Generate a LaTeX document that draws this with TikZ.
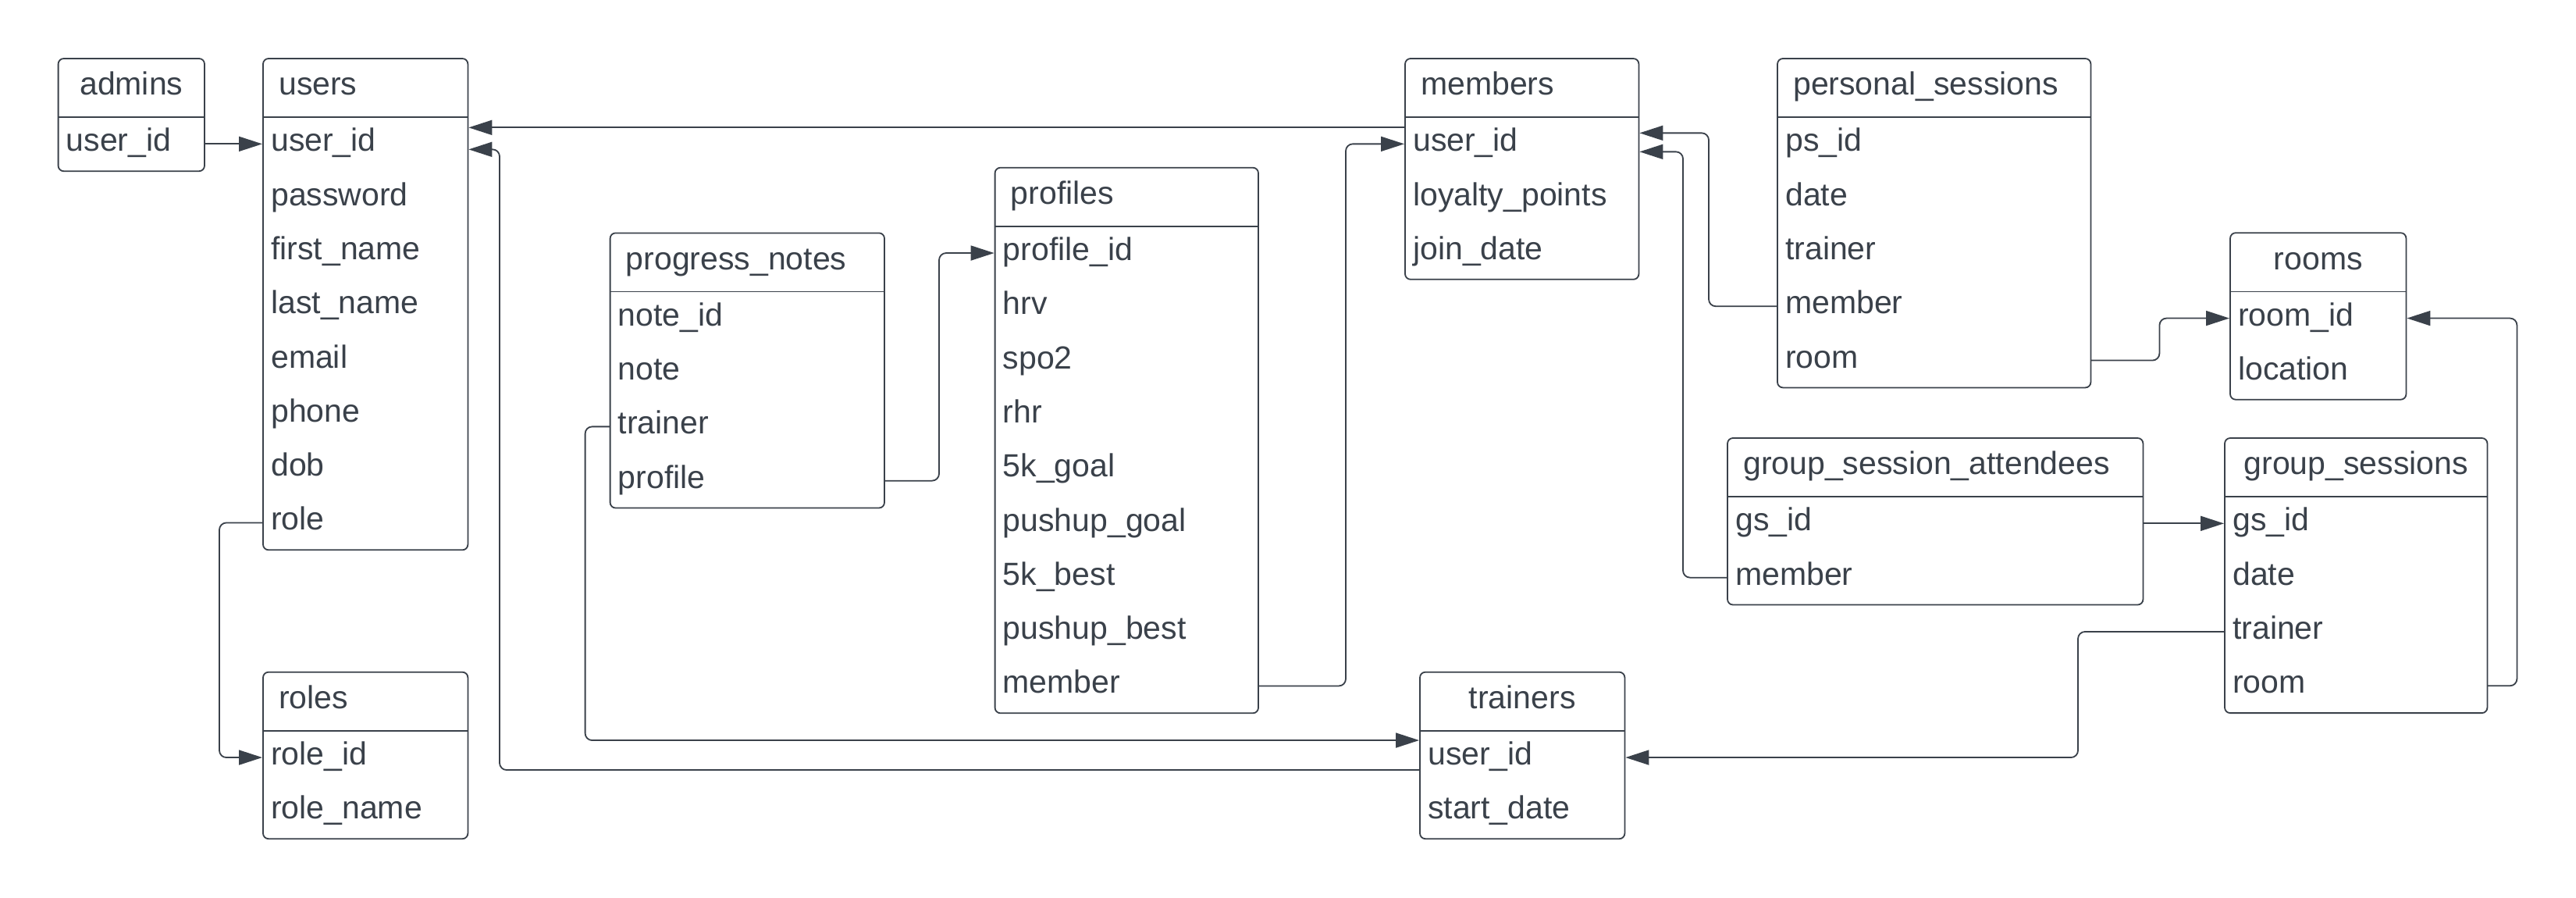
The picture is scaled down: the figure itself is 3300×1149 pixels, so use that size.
\documentclass[tikz,border=0pt]{standalone}
\usepackage{fontspec}
\setmainfont{Liberation Sans}
\usepackage{xcolor}
\usepackage{tikz}
\usetikzlibrary{arrows.meta}

\definecolor{inkc}{HTML}{3A414A}

\tikzset{
    tbl/.style={draw=inkc, line width=1.8pt, rounded corners=7pt},
    sepline/.style={draw=inkc, line width=2.2pt},
    headcell/.style={anchor=north west, inner xsep=20pt, inner ysep=0pt, minimum height=74.5pt, text height=29pt, text depth=10pt, align=left, text=inkc},
    fieldcell/.style={anchor=north west, inner xsep=10pt, inner ysep=0pt, minimum height=69.3pt, text height=29pt, text depth=10pt, align=left, text=inkc},
    link/.style={draw=inkc, line width=1.8pt, rounded corners=9pt},
    fk/.style={link, -{Triangle[length=30pt,width=19pt]}, shorten >=1pt},
}

% one table: [options] name, x, y, width, title, fields
\newcommand{\ertable}[7][]{%
    \begin{scope}[#1]
    \pgfmathsetmacro{\hw}{#5-40}
    \pgfmathsetmacro{\fw}{#5-20}
    \node[headcell, text width=\hw pt] (#2) at (#3,#4) {#6};
    \foreach \fld [count=\k] in {#7} {
        \node[fieldcell, text width=\fw pt] (#2-\k) at (#3,{#4+74.5+(\k-1)*69.3}) {\fld};
        \xdef\nrows{\k}
    }
    \draw[tbl] (#2.north west) rectangle (#2-\nrows.south east);
    \draw[sepline] (#2.south west) -- (#2.south east);
    \end{scope}
}

\begin{document}
\begin{tikzpicture}[x=1pt, y=-1pt, font=\fontsize{41}{49}\selectfont]
    \path[use as bounding box, fill=white] (0,0) rectangle (3300,1149);

    \ertable[headcell/.append style={align=center}]{admins}{74.6}{75}{187}{admins}{user\_id}
    \ertable{users}{337}{75}{262}{users}{user\_id, password, first\_name, last\_name, email, phone, dob, role}
    \ertable{roles}{337}{860.7}{262}{roles}{role\_id, role\_name}
    \ertable[sepline/.append style={line width=1pt}]{pnotes}{781.6}{298.4}{351}{progress\_notes}{note\_id, note, trainer, profile}
    \ertable{profiles}{1274.6}{214.7}{337}{profiles}{profile\_id, hrv, spo2, rhr, 5k\_goal, pushup\_goal, 5k\_best, pushup\_best, member}
    \ertable{members}{1800}{75}{299}{members}{user\_id, loyalty\_points, join\_date}
    \ertable[headcell/.append style={align=center}]{trainers}{1819}{860.7}{262}{trainers}{user\_id, start\_date}
    \ertable{psess}{2277}{75}{401}{personal\_sessions}{ps\_id, date, trainer, member, room}
    \ertable[headcell/.append style={align=center}, sepline/.append style={line width=1pt}]{rooms}{2857}{298.2}{225}{rooms}{room\_id, location}
    \ertable{gsatt}{2213}{561}{532}{group\_session\_attendees}{gs\_id, member}
    \ertable[headcell/.append style={align=center}]{gsess}{2850}{561}{336}{group\_sessions}{gs\_id, date, trainer, room}

    \draw[fk] (admins-1.east) -- (users-1.west);
    \draw[fk] ([yshift=21pt]members-1.west) -- ([yshift=21pt]users-1.east);
    \draw[fk] ([yshift=-16pt]trainers-1.west) -- ++(-1179,0) |- ([yshift=-7pt]users-1.east);
    \draw[fk] (users-8.west) -- ++(-56,0) |- (roles-1.west);
    \draw[fk] (pnotes-3.west) -- ++(-32,0) |- ([yshift=22pt]trainers-1.west);
    \draw[fk] (pnotes-4.east) -- ++(70,0) |- (profiles-1.west);
    \draw[fk] (profiles-9.east) -- ++(112,0) |- (members-1.west);
    \draw[fk] (psess-4.west) -- ++(-88,0) |- ([yshift=14pt]members-1.east);
    \draw[fk] (gsatt-2.west) -- ++(-57,0) |- ([yshift=-10pt]members-1.east);
    \draw[fk] (psess-5.east) -- ++(88,0) |- (rooms-1.west);
    \draw[fk] (gsess-4.east) -- ++(38,0) |- (rooms-1.east);
    \draw[fk] (gsatt-1.east) -- (gsess-1.west);
    \draw[fk] (gsess-3.west) -- ++(-188,0) |- (trainers-1.east);
\end{tikzpicture}
\end{document}
